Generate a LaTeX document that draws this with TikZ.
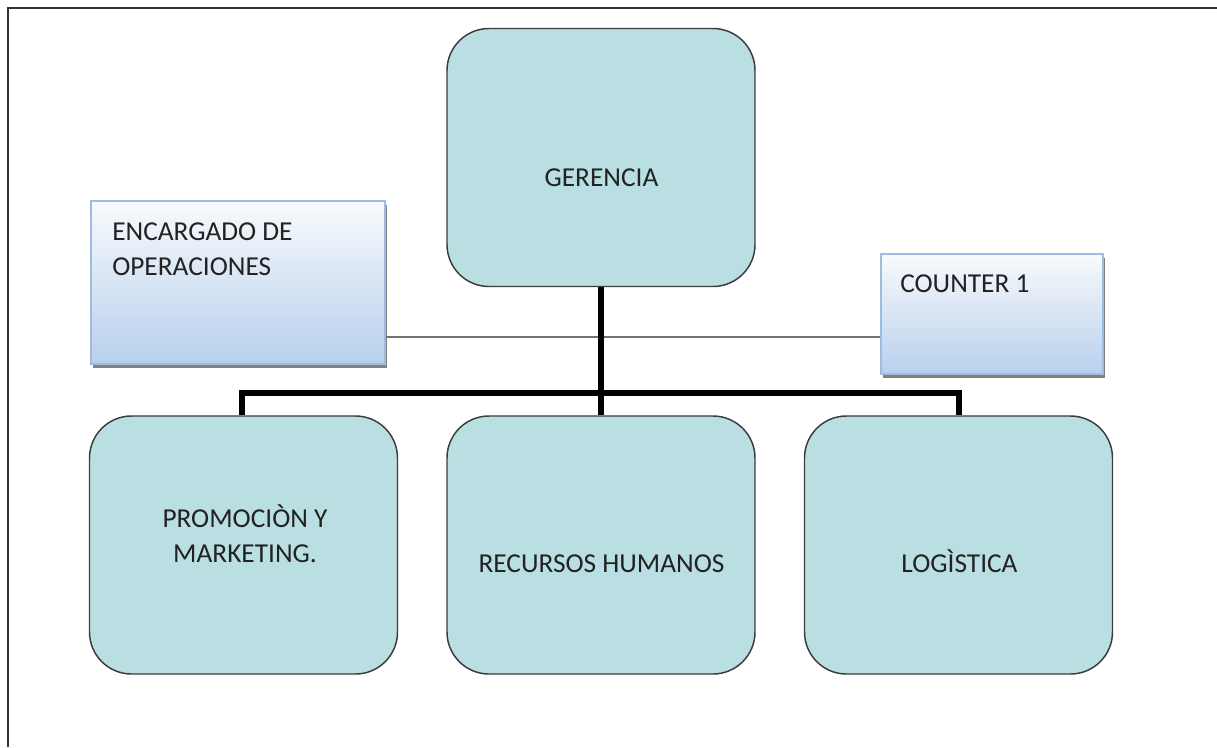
\documentclass[tikz,border=0pt]{standalone}
\usepackage{fontspec}
\setmainfont{Carlito}
\usetikzlibrary{calc,shadows}
\definecolor{boxfill}{HTML}{B9DFE2}
\definecolor{boxline}{HTML}{3C3C3C}
\definecolor{gradtop}{HTML}{F8FAFD}
\definecolor{gradbot}{HTML}{B8CFEC}
\definecolor{gradline}{HTML}{9CBCE0}
\definecolor{txt}{HTML}{222222}
\begin{document}
\begin{tikzpicture}[x=0.75pt,y=-0.75pt,
  rbox/.style={draw=boxline, line width=1.1pt, fill=boxfill, rounded corners=31.5pt,
    minimum width=231pt, minimum height=193.5pt, inner sep=0pt},
  gbox/.style={draw=gradline, line width=0.8pt, top color=gradtop, bottom color=gradbot,
    inner sep=0pt, drop shadow={shadow xshift=1.2pt, shadow yshift=-3pt, fill=black!55, opacity=0.9}},
  lbl/.style={font=\fontsize{20.5}{26}\selectfont, text=txt, inner sep=0pt},
  conn/.style={line width=4.2pt, black, line join=miter},
  side/.style={line width=1.3pt, black!55}]
\useasboundingbox (0,0) rectangle (1217,747);
% page frame
\draw[line width=1.4pt, black!80] (8,747) -- (8,8) -- (1217,8);

% side boxes
\node[gbox, minimum width=220.5pt, minimum height=122.25pt] (enc) at (238,282.5) {};
\node[gbox, minimum width=166.5pt, minimum height=90pt] (cnt) at (992,314) {};
\node[lbl, anchor=base west] (enc1) at (112,240) {ENCARGADO DE};
\node[lbl, anchor=base west] (enc2) at (112,275) {OPERACIONES};
\node[lbl, anchor=base west] (cntt) at (900,292) {COUNTER 1};

% main boxes
\node[rbox] (g) at (601,157.5) {};
\node[rbox] (p) at (243.5,545) {};
\node[rbox] (r) at (601,545) {};
\node[rbox] (l) at (958.5,545) {};

\node[lbl, anchor=base] (gt) at (601.5,186) {GERENCIA};
\node[lbl, anchor=base] (pt1) at (245,527) {PROMOCIÒN Y};
\node[lbl, anchor=base] (pt2) at (245,562) {MARKETING.};
\node[lbl, anchor=base] (rt) at (601.5,572) {RECURSOS HUMANOS};
\node[lbl, anchor=base] (lt) at (959.5,572) {LOGÌSTICA};

% connectors
\coordinate (mid) at (601,337);
\coordinate (hub) at (601,393);
\draw[side] (enc.east |- mid) -- (cnt.west |- mid);
\draw[conn] (g.south) -- (r.north);
\draw[conn] (p.north -| 242,0) -- (242,0 |- hub) -- (959,0 |- hub) -- (l.north -| 959,0);
\end{tikzpicture}
\end{document}
